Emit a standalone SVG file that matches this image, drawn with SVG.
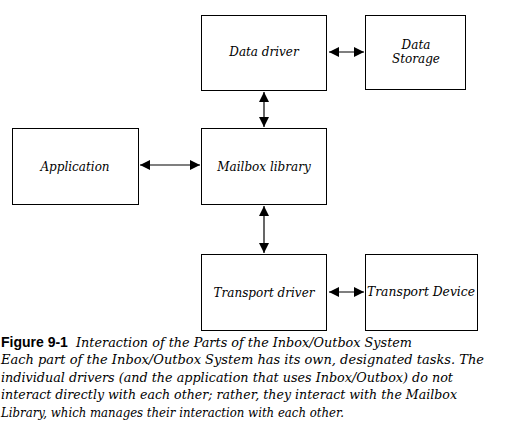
<svg xmlns="http://www.w3.org/2000/svg" width="507" height="428" viewBox="0 0 507 428">
<style>
.box{fill:#fff;stroke:#000;stroke-width:1}
.lbl{font-family:"DejaVu Serif","Liberation Serif",serif;font-style:italic;font-size:12px;fill:#000;text-anchor:middle}
.cap{font-family:"DejaVu Serif","Liberation Serif",serif;font-style:italic;font-size:12.5px;fill:#000}
.fig{font-family:"Liberation Sans",Arial,sans-serif;font-weight:bold;font-size:14px;fill:#000}
.con{stroke:#000;stroke-width:1.2;fill:none;marker-start:url(#ah);marker-end:url(#ah)}
</style>
<defs>
<marker id="ah" viewBox="0 0 10 10" refX="10" refY="5" markerWidth="10" markerHeight="10" markerUnits="userSpaceOnUse" orient="auto-start-reverse">
<path d="M0,0 L10,5 L0,10 z" fill="#000"/>
</marker>
</defs>
<rect width="507" height="428" fill="#fff"/>
<g id="data-driver"><rect class="box" x="201.5" y="15.5" width="125" height="75"/><text class="lbl" x="264" y="56">Data driver</text></g>
<g id="data-storage"><rect class="box" x="365.5" y="15.5" width="100" height="74"/><text class="lbl" x="416" y="49">Data</text><text class="lbl" x="416" y="63">Storage</text></g>
<g id="application"><rect class="box" x="12.5" y="128.5" width="126" height="76"/><text class="lbl" x="75" y="171">Application</text></g>
<g id="mailbox-library"><rect class="box" x="201.5" y="128.5" width="125" height="76"/><text class="lbl" x="264" y="171">Mailbox library</text></g>
<g id="transport-driver"><rect class="box" x="201.5" y="254.5" width="125" height="76"/><text class="lbl" x="264" y="297">Transport driver</text></g>
<g id="transport-device"><rect class="box" x="365.5" y="254.5" width="112" height="76"/><text class="lbl" x="421" y="296" textLength="108" lengthAdjust="spacingAndGlyphs">Transport Device</text></g>
<g id="connectors">
<line class="con" x1="329" y1="52" x2="364" y2="52"/>
<line class="con" x1="264" y1="92" x2="264" y2="127"/>
<line class="con" x1="140" y1="165" x2="200" y2="165"/>
<line class="con" x1="264" y1="206" x2="264" y2="253"/>
<line class="con" x1="329" y1="292" x2="364" y2="292"/>
</g>
<g id="caption">
<text class="fig" x="1" y="347">Figure 9-1</text>
<text class="cap" x="76" y="347" textLength="336" lengthAdjust="spacingAndGlyphs">Interaction of the Parts of the Inbox/Outbox System</text>
<text class="cap" x="1" y="364" textLength="483" lengthAdjust="spacingAndGlyphs">Each part of the Inbox/Outbox System has its own, designated tasks. The</text>
<text class="cap" x="1" y="382" textLength="452" lengthAdjust="spacingAndGlyphs">individual drivers (and the application that uses Inbox/Outbox) do not</text>
<text class="cap" x="1" y="399" textLength="456" lengthAdjust="spacingAndGlyphs">interact directly with each other; rather, they interact with the Mailbox</text>
<text class="cap" x="1" y="417" textLength="343" lengthAdjust="spacingAndGlyphs">Library, which manages their interaction with each other.</text>
</g>
</svg>
